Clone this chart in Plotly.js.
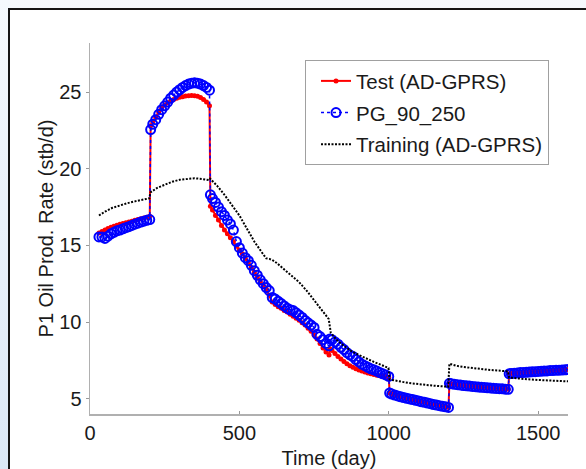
<!DOCTYPE html>
<html>
<head>
<meta charset="utf-8">
<script src="https://cdn.plot.ly/plotly-3.0.1.min.js"></script>
<style>
  html, body { margin: 0; padding: 0; width: 586px; height: 469px; overflow: hidden;
    background: linear-gradient(to bottom, #f5f9fd 0%, #e6eff9 60%, #dbe8f6 100%); }
  #frame { position: absolute; left: 8px; top: 8px; width: 600px; height: 480px;
    border: 2px solid #151515; background: #ffffff; box-sizing: border-box; }
  #chart { position: absolute; left: 0; top: 0; width: 586px; height: 469px; }
</style>
</head>
<body>
<div id="frame"></div>
<div id="chart"></div>
<script>
// Time steps (day) shared by the test and proxy series
const days = [
  30,40,50,60,70,80,90,100,110,120,130,140,150,160,170,180,190,200,
  203,210,220,230,240,250,260,270,280,290,300,310,320,330,340,350,360,370,380,390,400,
  403,410,420,430,440,450,460,470,480,490,500,510,520,530,540,550,560,570,580,590,600,
  610,620,630,640,650,660,670,680,690,700,710,720,730,740,750,760,770,780,790,800,
  803,810,820,830,840,850,860,870,880,890,900,910,920,930,940,950,960,970,980,990,1000,
  1003,1010,1020,1030,1040,1050,1060,1070,1080,1090,1100,1110,1120,1130,1140,1150,1160,1170,1180,1190,1200,
  1203,1210,1220,1230,1240,1250,1260,1270,1280,1290,1300,1310,1320,1330,1340,1350,1360,1370,1380,1390,1400,
  1403,1410,1420,1430,1440,1450,1460,1470,1480,1490,1500,1510,1520,1530,1540,1550,1560,1570,1580,1590,1600
];

// Test (AD-GPRS)
const testRate = [
  15.8,15.9,16.0,16.1,16.18,16.25,16.32,16.38,16.43,16.48,16.53,16.58,16.63,16.68,16.73,16.78,16.83,16.9,
  22.8,23.05,23.35,23.7,23.95,24.15,24.3,24.42,24.52,24.6,24.66,24.7,24.74,24.76,24.77,24.76,24.72,24.65,24.52,24.35,24.1,
  17.55,17.3,16.95,16.65,16.3,16.0,15.75,15.5,15.25,14.95,14.7,14.45,14.15,13.85,13.55,13.25,12.95,12.65,12.4,12.15,11.75,
  11.3,11.15,11.0,10.9,10.75,10.65,10.5,10.38,10.25,10.12,9.95,9.8,9.6,9.4,9.15,8.9,8.6,8.3,8.05,7.85,
  8.25,8.15,7.95,7.75,7.58,7.42,7.28,7.15,7.05,6.95,6.87,6.8,6.74,6.68,6.62,6.57,6.53,6.5,6.47,6.44,6.4,
  5.37,5.3,5.24,5.18,5.12,5.07,5.02,4.98,4.94,4.89,4.85,4.8,4.76,4.71,4.67,4.62,4.58,4.54,4.5,4.47,4.43,
  6.0,5.97,5.94,5.91,5.89,5.86,5.84,5.82,5.8,5.78,5.76,5.74,5.73,5.71,5.7,5.68,5.67,5.65,5.64,5.62,5.61,
  6.62,6.64,6.66,6.68,6.7,6.71,6.72,6.74,6.75,6.76,6.78,6.79,6.8,6.81,6.83,6.84,6.85,6.86,6.87,6.88,6.9
];

// PG_90_250
const pgRate = [
  15.55,15.55,15.45,15.6,15.75,15.85,15.95,16.0,16.08,16.15,16.22,16.3,16.38,16.45,16.52,16.58,16.63,16.68,
  22.55,22.9,23.2,23.55,23.85,24.1,24.35,24.6,24.8,25.0,25.15,25.3,25.42,25.52,25.58,25.6,25.58,25.52,25.42,25.3,25.12,
  18.3,18.05,17.8,17.5,17.2,16.95,16.65,16.4,16.0,15.25,14.85,14.5,14.2,14.0,13.7,13.35,13.05,12.75,12.5,12.25,12.05,
  11.6,11.5,11.35,11.2,11.05,10.9,10.8,10.75,10.6,10.45,10.3,10.1,9.95,9.8,9.65,9.2,9.05,8.85,8.6,8.45,
  8.9,8.85,8.7,8.55,8.35,8.2,8.0,7.85,7.75,7.55,7.4,7.25,7.15,7.05,6.95,6.88,6.8,6.7,6.62,6.55,6.45,
  5.37,5.3,5.24,5.18,5.12,5.07,5.02,4.98,4.94,4.89,4.85,4.8,4.76,4.71,4.67,4.62,4.58,4.54,4.5,4.47,4.43,
  6.0,5.97,5.94,5.91,5.89,5.86,5.84,5.82,5.8,5.78,5.76,5.74,5.73,5.71,5.7,5.68,5.67,5.65,5.64,5.62,5.61,
  6.62,6.64,6.66,6.68,6.7,6.71,6.72,6.74,6.75,6.76,6.78,6.79,6.8,6.81,6.83,6.84,6.85,6.86,6.87,6.88,6.9
];

// Training (AD-GPRS)
const trainDays = [
  30,50,75,100,125,150,175,199,
  202,225,250,275,300,325,350,375,399,
  402,425,450,475,500,525,550,575,590,600,610,625,650,675,700,725,750,775,799,
  806,825,850,875,900,925,950,975,999,
  1003,1025,1050,1075,1100,1125,1150,1175,1199,
  1203,1225,1250,1275,1300,1325,1350,1375,1399,
  1403,1425,1450,1475,1500,1525,1550,1575,1600
];
const trainRate = [
  16.95,17.2,17.45,17.62,17.75,17.87,17.97,18.07,
  18.45,18.75,18.95,19.15,19.28,19.35,19.38,19.33,19.25,
  19.35,18.9,18.3,17.6,16.95,16.1,15.25,14.55,14.15,14.12,14.05,13.85,13.45,13.05,12.6,12.05,11.45,10.85,10.2,
  9.3,8.85,8.45,8.1,7.85,7.6,7.4,7.2,7.0,
  6.25,6.15,6.08,6.0,5.94,5.89,5.85,5.81,5.78,
  7.28,7.15,7.07,7.0,6.95,6.9,6.86,6.82,6.78,
  6.37,6.32,6.28,6.25,6.22,6.19,6.17,6.15,6.13
];

const seriesNames = ['Test (AD-GPRS)', 'PG_90_250', 'Training (AD-GPRS)'];
const xTicks = [0, 500, 1000, 1500];
const yTicks = [5, 10, 15, 20, 25];

const FONT = 'Liberation Sans, Arial, Helvetica, sans-serif';

const traces = [
  { x: days, y: testRate, name: seriesNames[0], type: 'scatter', mode: 'lines+markers',
    legendgroup: 'a',
    line: { color: '#ff0000', width: 2 },
    marker: { symbol: 'circle', size: 5, color: '#ff0000' } },
  { x: days, y: pgRate, name: seriesNames[1], type: 'scatter', mode: 'lines+markers',
    legendgroup: 'b',
    line: { color: '#0000ff', width: 1.5, dash: 'dot' },
    marker: { symbol: 'circle-open', size: 9, color: '#0000ff', line: { width: 2, color: '#0000ff' } } },
  { x: trainDays, y: trainRate, name: seriesNames[2], type: 'scatter', mode: 'lines',
    legendgroup: 'c',
    line: { color: '#000000', width: 2, dash: '2px,1.5px' } }
];

const layout = {
  width: 586, height: 469,
  margin: { l: 90, r: 18, t: 43, b: 55 },
  paper_bgcolor: 'rgba(0,0,0,0)',
  plot_bgcolor: 'rgba(0,0,0,0)',
  font: { family: FONT, size: 20, color: '#1a1a1a' },
  showlegend: true,
  legend: {
    x: 0.4498, xanchor: 'left', y: 0.954, yanchor: 'top',
    bgcolor: '#ffffff', bordercolor: '#a0a0a0', borderwidth: 1,
    font: { family: FONT, size: 20.5, color: '#1a1a1a' },
    itemwidth: 30, tracegroupgap: 2, indentation: 10
  },
  xaxis: {
    range: [0, 1600], tickvals: xTicks, ticktext: xTicks.map(String),
    showgrid: false, zeroline: false,
    showline: true, linecolor: '#b0b0b0', linewidth: 1.5,
    ticks: 'inside', ticklen: 3, tickcolor: '#999999',
    tickfont: { family: FONT, size: 20, color: '#1a1a1a' },
    title: { text: 'Time (day)', font: { family: FONT, size: 20, color: '#1a1a1a' }, standoff: 8 }
  },
  yaxis: {
    range: [4, 28.2], tickvals: yTicks, ticktext: yTicks.map(String),
    showgrid: false, zeroline: false,
    showline: true, linecolor: '#b0b0b0', linewidth: 1.5,
    ticks: 'outside', ticklen: 3, tickcolor: '#999999',
    tickfont: { family: FONT, size: 20, color: '#1a1a1a' },
    title: { text: 'P1 Oil Prod. Rate (stb/d)', font: { family: FONT, size: 20, color: '#1a1a1a' }, standoff: 0 }
  }
};

Plotly.newPlot('chart', traces, layout, { displayModeBar: false, staticPlot: true });
</script>
</body>
</html>
